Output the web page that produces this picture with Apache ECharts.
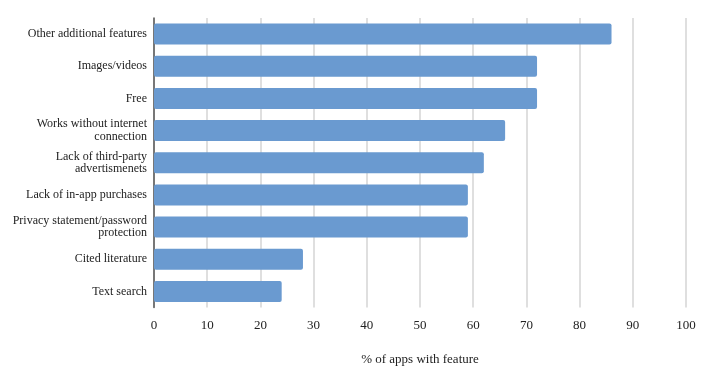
<!DOCTYPE html>
<html>
<head>
<meta charset="utf-8">
<script src="https://cdn.jsdelivr.net/npm/echarts@6/dist/echarts.min.js"></script>
<style>html,body{margin:0;padding:0;background:#fff}#c{width:702px;height:377px}</style>
</head>
<body>
<div id="c"></div>
<script>
var categories = [
  "Other additional features",
  "Images/videos",
  "Free",
  "Works without internet\nconnection",
  "Lack of third-party\nadvertismenets",
  "Lack of in-app purchases",
  "Privacy statement/password\nprotection",
  "Cited literature",
  "Text search"
];
var values = [86, 72, 72, 66, 62, 59, 59, 28, 24];
var xTicks = [0, 10, 20, 30, 40, 50, 60, 70, 80, 90, 100];
var xAxisName = "% of apps with feature";

var chart = echarts.init(document.getElementById('c'));
var font = '"Liberation Serif", "Times New Roman", serif';
chart.setOption({
  animation: false,
  grid: { left: 154, right: 16, top: 18, bottom: 69.5 },
  xAxis: {
    type: 'value', min: xTicks[0], max: xTicks[xTicks.length - 1], interval: 10,
    name: xAxisName, nameLocation: 'middle', nameGap: 46,
    nameTextStyle: { fontFamily: font, fontSize: 13, color: '#222' },
    axisLine: { show: false }, axisTick: { show: false },
    axisLabel: { fontFamily: font, fontSize: 13, color: '#222', margin: 12 },
    splitLine: { show: true, lineStyle: { color: '#d4d4d4', width: 1.5 } }
  },
  yAxis: {
    type: 'category', data: categories, inverse: true,
    axisLine: { show: true, lineStyle: { color: '#555', width: 1.5 } },
    axisTick: { show: false },
    axisLabel: { fontFamily: font, fontSize: 12, color: '#222', margin: 7, lineHeight: 12.5, align: 'right' }
  },
  series: [{
    type: 'bar', data: values, barWidth: 21,
    itemStyle: { color: '#6a9ad0', borderRadius: 2 }
  }]
});
</script>
</body>
</html>
